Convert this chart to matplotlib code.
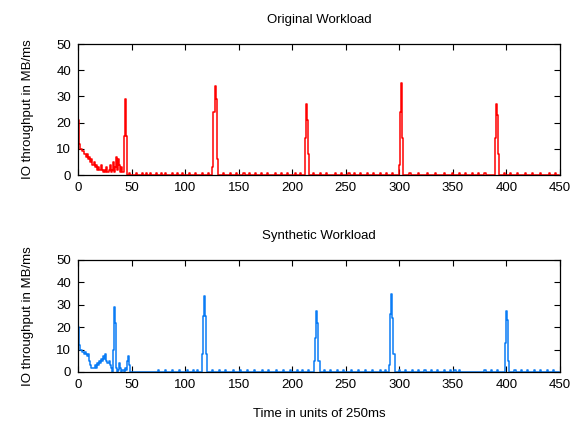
import numpy as np
import matplotlib
matplotlib.use("Agg")
import matplotlib.pyplot as plt

plt.rcParams['font.family'] = ['Liberation Sans', 'DejaVu Sans']

N_POINTS = 450

# Original workload: warm-up phase, then periodic bursts
orig_start = [21, 12, 10, 10, 9, 9, 8, 8, 7, 8, 6, 7, 5, 6, 4, 5, 3, 4, 2, 3,
              2, 2, 4, 2, 1, 2, 1, 3, 1, 2, 4, 1, 2, 5, 1, 3, 7, 2, 6, 4,
              1, 3, 1, 15, 29, 15, 0]
orig_bursts = {126: [3, 24, 34, 29, 6],
               212: [14, 27, 21, 8],
               300: [4, 24, 35, 14],
               390: [14, 27, 23, 8]}
orig_blips = [48, 55, 60, 64, 68, 73, 78, 82, 88, 93, 98, 104, 110, 116, 122,
              136, 142, 148, 155, 160, 166, 171, 177, 184, 190, 196, 203, 208,
              220, 226, 232, 240, 246, 253, 258, 264, 270, 276, 282, 288, 294,
              310, 318, 326, 334, 342, 350, 356, 362, 368, 374, 380,
              398, 404, 410, 418, 424, 432, 440, 446]

# Synthetic workload
synth_start = [20, 12, 10, 10, 9, 9, 8, 9, 8, 7, 8, 5, 3, 2, 2, 2, 3, 2, 4, 3,
               5, 4, 6, 5, 7, 6, 8, 5, 4, 5, 3, 2, 0, 10, 29, 22, 2, 0, 1, 4,
               2, 0, 1, 0, 2, 1, 5, 7, 3, 0]
synth_bursts = {116: [8, 25, 34, 25, 8],
                221: [5, 15, 27, 22, 5],
                291: [3, 26, 35, 24, 8],
                399: [13, 27, 23, 5]}
synth_blips = [75, 82, 88, 95, 102, 108, 112, 126, 132, 138, 145, 152, 158,
               165, 172, 178, 185, 192, 198, 205, 210, 215, 230, 236, 242, 248,
               255, 262, 268, 275, 282, 287, 300, 306, 312, 318, 324, 330, 336,
               342, 348, 352, 356, 380, 386, 392, 408, 414, 420, 426, 432, 438,
               444]
BLIP_VALUE = 0.7


def build_series(start, bursts, blips):
    y = np.zeros(N_POINTS)
    y[:len(start)] = start
    for i in blips:
        y[i] = BLIP_VALUE
    for i0, vals in bursts.items():
        y[i0:i0 + len(vals)] = vals
    return y


t = np.arange(N_POINTS)
orig = build_series(orig_start, orig_bursts, orig_blips)
synth = build_series(synth_start, synth_bursts, synth_blips)

FS = 9.5
fig = plt.figure(figsize=(5.73, 4.26), dpi=100)
ax1 = fig.add_axes([0.1361, 0.5892, 0.8412, 0.3075])
ax2 = fig.add_axes([0.1361, 0.1268, 0.8412, 0.2630])

for ax, y, color, title in [(ax1, orig, '#ff0000', 'Original Workload'),
                            (ax2, synth, '#0a7cf5', 'Synthetic Workload')]:
    ax.plot(t, y, color=color, lw=1.1, drawstyle='steps-mid')
    ax.set_xlim(0, 450)
    ax.set_ylim(0, 50)
    ax.set_xticks(np.arange(0, 451, 50))
    ax.set_yticks(np.arange(0, 51, 10))
    ax.tick_params(direction='in', top=True, right=True, length=4,
                   width=0.8, labelsize=FS, pad=5)
    for s in ax.spines.values():
        s.set_linewidth(0.9)
    ax.set_title(title, fontsize=FS, pad=15)
    ax.set_ylabel('IO throughput in MB/ms', fontsize=FS, labelpad=16)

ax2.set_xlabel('Time in units of 250ms', fontsize=FS, labelpad=12)

fig.savefig('out.png', dpi=100)
